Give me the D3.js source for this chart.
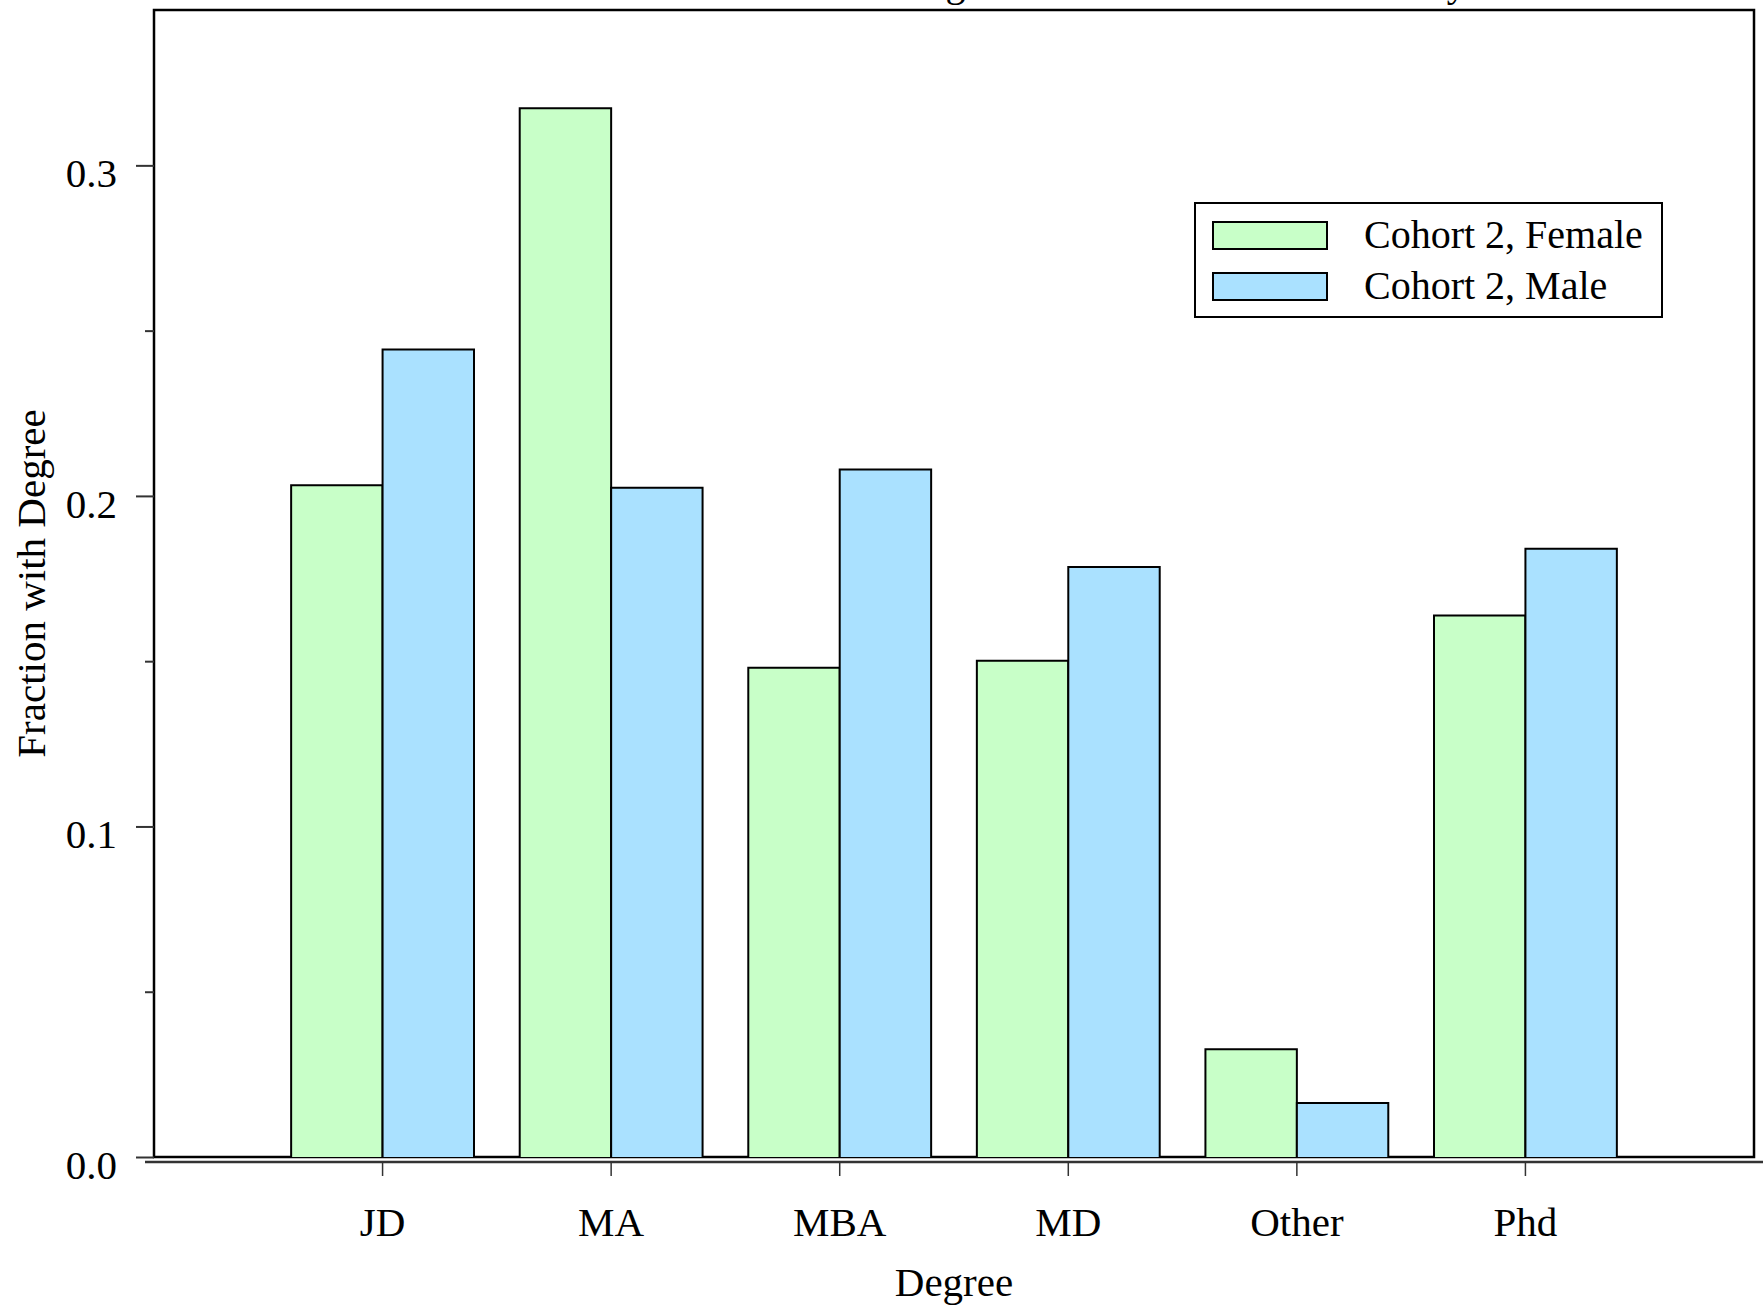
<!DOCTYPE html>
<html>
<head>
<meta charset="utf-8">
<script src="https://cdn.jsdelivr.net/npm/d3@7"></script>
<style>
  body { margin: 0; background: #fff; }
  svg { display: block; }
  text { font-family: "Liberation Serif", "Times New Roman", serif; fill: #000; }
</style>
</head>
<body>
<script>
// Data
var degrees = ['JD', 'MA', 'MBA', 'MD', 'Other', 'Phd'];
var seriesNames = ['Cohort 2, Female', 'Cohort 2, Male'];
var femaleValues = [0.2032, 0.3173, 0.1480, 0.1501, 0.0326, 0.1638];
var maleValues = [0.2443, 0.2025, 0.2080, 0.1785, 0.0163, 0.1840];
var yTicks = [0, 0.1, 0.2, 0.3];
var yMinorTicks = [0.05, 0.15, 0.25];

var width = 1763,
    height = 1307;

// Plot frame
var frameLeft = 154,
    frameRight = 1754,
    frameTop = 10,
    frameBottom = 1157,
    yMax = 0.347;

var colors = ['#c8ffc8', '#aae1ff'];

var svg = d3.select('body').append('svg')
    .attr('width', width)
    .attr('height', height);

var step = (frameRight - frameLeft) / (degrees.length + 1);

var x = d3.scaleBand()
    .domain(degrees)
    .range([frameLeft + step / 2, frameRight - step / 2])
    .paddingInner(0.2)
    .paddingOuter(0.1);

var x1 = d3.scaleBand()
    .domain(seriesNames)
    .range([0, x.bandwidth()]);

var y = d3.scaleLinear()
    .domain([0, yMax])
    .range([frameBottom, frameTop]);

// Title (mostly falls above the visible area)
svg.append('text')
    .attr('x', (frameLeft + frameRight) / 2)
    .attr('y', -4)
    .attr('text-anchor', 'middle')
    .style('font-size', '40px')
    .text('Female and Male Advanced Degree Holders in Cohort 2 Survey');

// Frame
svg.append('rect')
    .attr('x', frameLeft)
    .attr('y', frameTop)
    .attr('width', frameRight - frameLeft)
    .attr('height', frameBottom - frameTop)
    .attr('fill', 'none')
    .attr('stroke', '#000')
    .attr('stroke-width', 2.5);

// Bars
var rows = degrees.map(function(d, i) {
  return { degree: d, values: [femaleValues[i], maleValues[i]] };
});

var groups = svg.selectAll('g.group')
    .data(rows)
  .enter().append('g')
    .attr('class', 'group')
    .attr('transform', function(d) { return 'translate(' + x(d.degree) + ',0)'; });

var bars = groups.selectAll('g.bar')
    .data(function(d) {
      return d.values.map(function(v, i) { return { name: seriesNames[i], value: v, i: i }; });
    })
  .enter().append('g')
    .attr('class', 'bar');

bars.append('rect')
    .attr('x', function(d) { return x1(d.name); })
    .attr('y', function(d) { return y(d.value); })
    .attr('width', x1.bandwidth())
    .attr('height', function(d) { return y(0) - y(d.value); })
    .attr('fill', function(d) { return colors[d.i]; });

// outline on three sides only, bottom left open
bars.append('path')
    .attr('d', function(d) {
      var l = x1(d.name), r = l + x1.bandwidth();
      return 'M' + l + ',' + y(0) + 'V' + y(d.value) + 'H' + r + 'V' + y(0);
    })
    .attr('fill', 'none')
    .attr('stroke', '#000')
    .attr('stroke-width', 2);

// Y axis, ticks outside the frame
var yAxis = svg.append('g')
    .attr('transform', 'translate(' + frameLeft + ',0)')
    .call(d3.axisLeft(y).tickValues(yTicks).tickSize(18).tickFormat(d3.format('.1f')));
yAxis.select('.domain').remove();
yAxis.selectAll('line').attr('stroke', '#333').attr('stroke-width', 2);
yAxis.selectAll('text')
    .attr('x', -37)
    .attr('dy', 21.5)
    .style('font-size', '41px');

var yMinor = svg.append('g')
    .attr('transform', 'translate(' + frameLeft + ',0)')
    .call(d3.axisLeft(y).tickValues(yMinorTicks).tickSize(9).tickFormat(''));
yMinor.select('.domain').remove();
yMinor.selectAll('line').attr('stroke', '#333').attr('stroke-width', 2);

// X axis, drawn a little below the frame
var xAxisY = frameBottom + 5;
svg.append('line')
    .attr('x1', frameLeft - 9)
    .attr('x2', width)
    .attr('y1', xAxisY)
    .attr('y2', xAxisY)
    .attr('stroke', '#333')
    .attr('stroke-width', 2.5);

var xAxis = svg.append('g')
    .attr('transform', 'translate(0,' + xAxisY + ')')
    .call(d3.axisBottom(x).tickSize(14).tickSizeOuter(0));
xAxis.select('.domain').remove();
xAxis.selectAll('line').attr('stroke', '#333').attr('stroke-width', 1.5);
xAxis.selectAll('text')
    .attr('y', 1236 - xAxisY)
    .attr('dy', 0)
    .style('font-size', '41px');

// Axis titles
svg.append('text')
    .attr('x', (frameLeft + frameRight) / 2)
    .attr('y', 1296)
    .attr('text-anchor', 'middle')
    .style('font-size', '41px')
    .text('Degree');

svg.append('text')
    .attr('transform', 'translate(45,' + ((frameTop + frameBottom) / 2) + ') rotate(-90)')
    .attr('text-anchor', 'middle')
    .style('font-size', '41px')
    .text('Fraction with Degree');

// Legend
var legend = svg.append('g')
    .attr('transform', 'translate(1195,203)');

legend.append('rect')
    .attr('width', 467)
    .attr('height', 114)
    .attr('fill', '#fff')
    .attr('stroke', '#000')
    .attr('stroke-width', 2);

var items = legend.selectAll('g.item')
    .data(seriesNames)
  .enter().append('g')
    .attr('class', 'item')
    .attr('transform', function(d, i) { return 'translate(18,' + (19 + i * 51) + ')'; });

items.append('rect')
    .attr('width', 114)
    .attr('height', 27)
    .attr('fill', function(d, i) { return colors[i]; })
    .attr('stroke', '#000')
    .attr('stroke-width', 2);

items.append('text')
    .attr('x', 151)
    .attr('y', 26)
    .style('font-size', '40px')
    .text(function(d) { return d; });
</script>
</body>
</html>
